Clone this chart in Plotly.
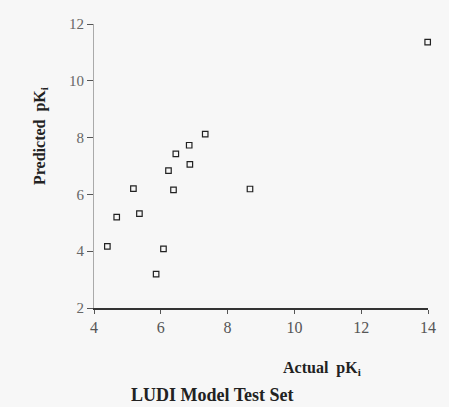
import plotly.graph_objects as go

actual_pk = [4.40, 4.68, 5.18, 5.36, 5.86, 6.08, 6.23, 6.38, 6.45, 6.85, 6.87, 7.33, 8.67, 13.99]
predicted_pk = [4.17, 5.20, 6.20, 5.32, 3.19, 4.08, 6.84, 6.16, 7.43, 7.73, 7.06, 8.12, 6.19, 11.36]
x_ticks = [4, 6, 8, 10, 12, 14]
y_ticks = [2, 4, 6, 8, 10, 12]

L, R, T, B = 94, 21, 24, 99
W, H = 449, 407
pw, ph = W - L - R, H - T - B

def px(x):
    return (x - L) / pw

def py(y):
    return (H - B - y) / ph

fig = go.Figure()
fig.add_trace(go.Scatter(
    x=actual_pk, y=predicted_pk, mode="markers",
    marker=dict(symbol="square-open", size=5.5, color="#222", line=dict(width=1.2, color="#222")),
    cliponaxis=False, showlegend=False,
))

fig.update_layout(
    width=W, height=H,
    margin=dict(l=L, r=R, t=T, b=B),
    paper_bgcolor="#f7f7f7", plot_bgcolor="#f7f7f7",
    xaxis=dict(range=[4, 14], tickvals=x_ticks, showgrid=False, zeroline=False,
               showline=True, linecolor="#333", linewidth=2,
               ticks="outside", ticklen=4, tickcolor="#555",
               tickfont=dict(family="Liberation Serif", size=16, color="#555")),
    yaxis=dict(range=[2, 12], tickvals=y_ticks, showgrid=False, zeroline=False,
               showline=True, linecolor="#aaa", linewidth=1,
               ticks="outside", ticklen=6, tickcolor="#555",
               tickfont=dict(family="Liberation Serif", size=15, color="#666")),
    annotations=[
        dict(text="<b>Predicted  pK<sub>i</sub></b>", xref="paper", yref="paper",
             x=px(40), y=py(136), textangle=-90, showarrow=False,
             font=dict(family="Liberation Serif", size=16, color="#222"),
             xanchor="center", yanchor="middle"),
        dict(text="<b>Actual  pK<sub>i</sub></b>", xref="paper", yref="paper",
             x=px(322), y=py(368), showarrow=False,
             font=dict(family="Liberation Serif", size=16, color="#222"),
             xanchor="center", yanchor="middle"),
        dict(text="<b>LUDI Model Test Set</b>", xref="paper", yref="paper",
             x=px(212), y=py(395), showarrow=False,
             font=dict(family="Liberation Serif", size=18, color="#222"),
             xanchor="center", yanchor="middle"),
    ],
)
fig.write_html("out.html")
